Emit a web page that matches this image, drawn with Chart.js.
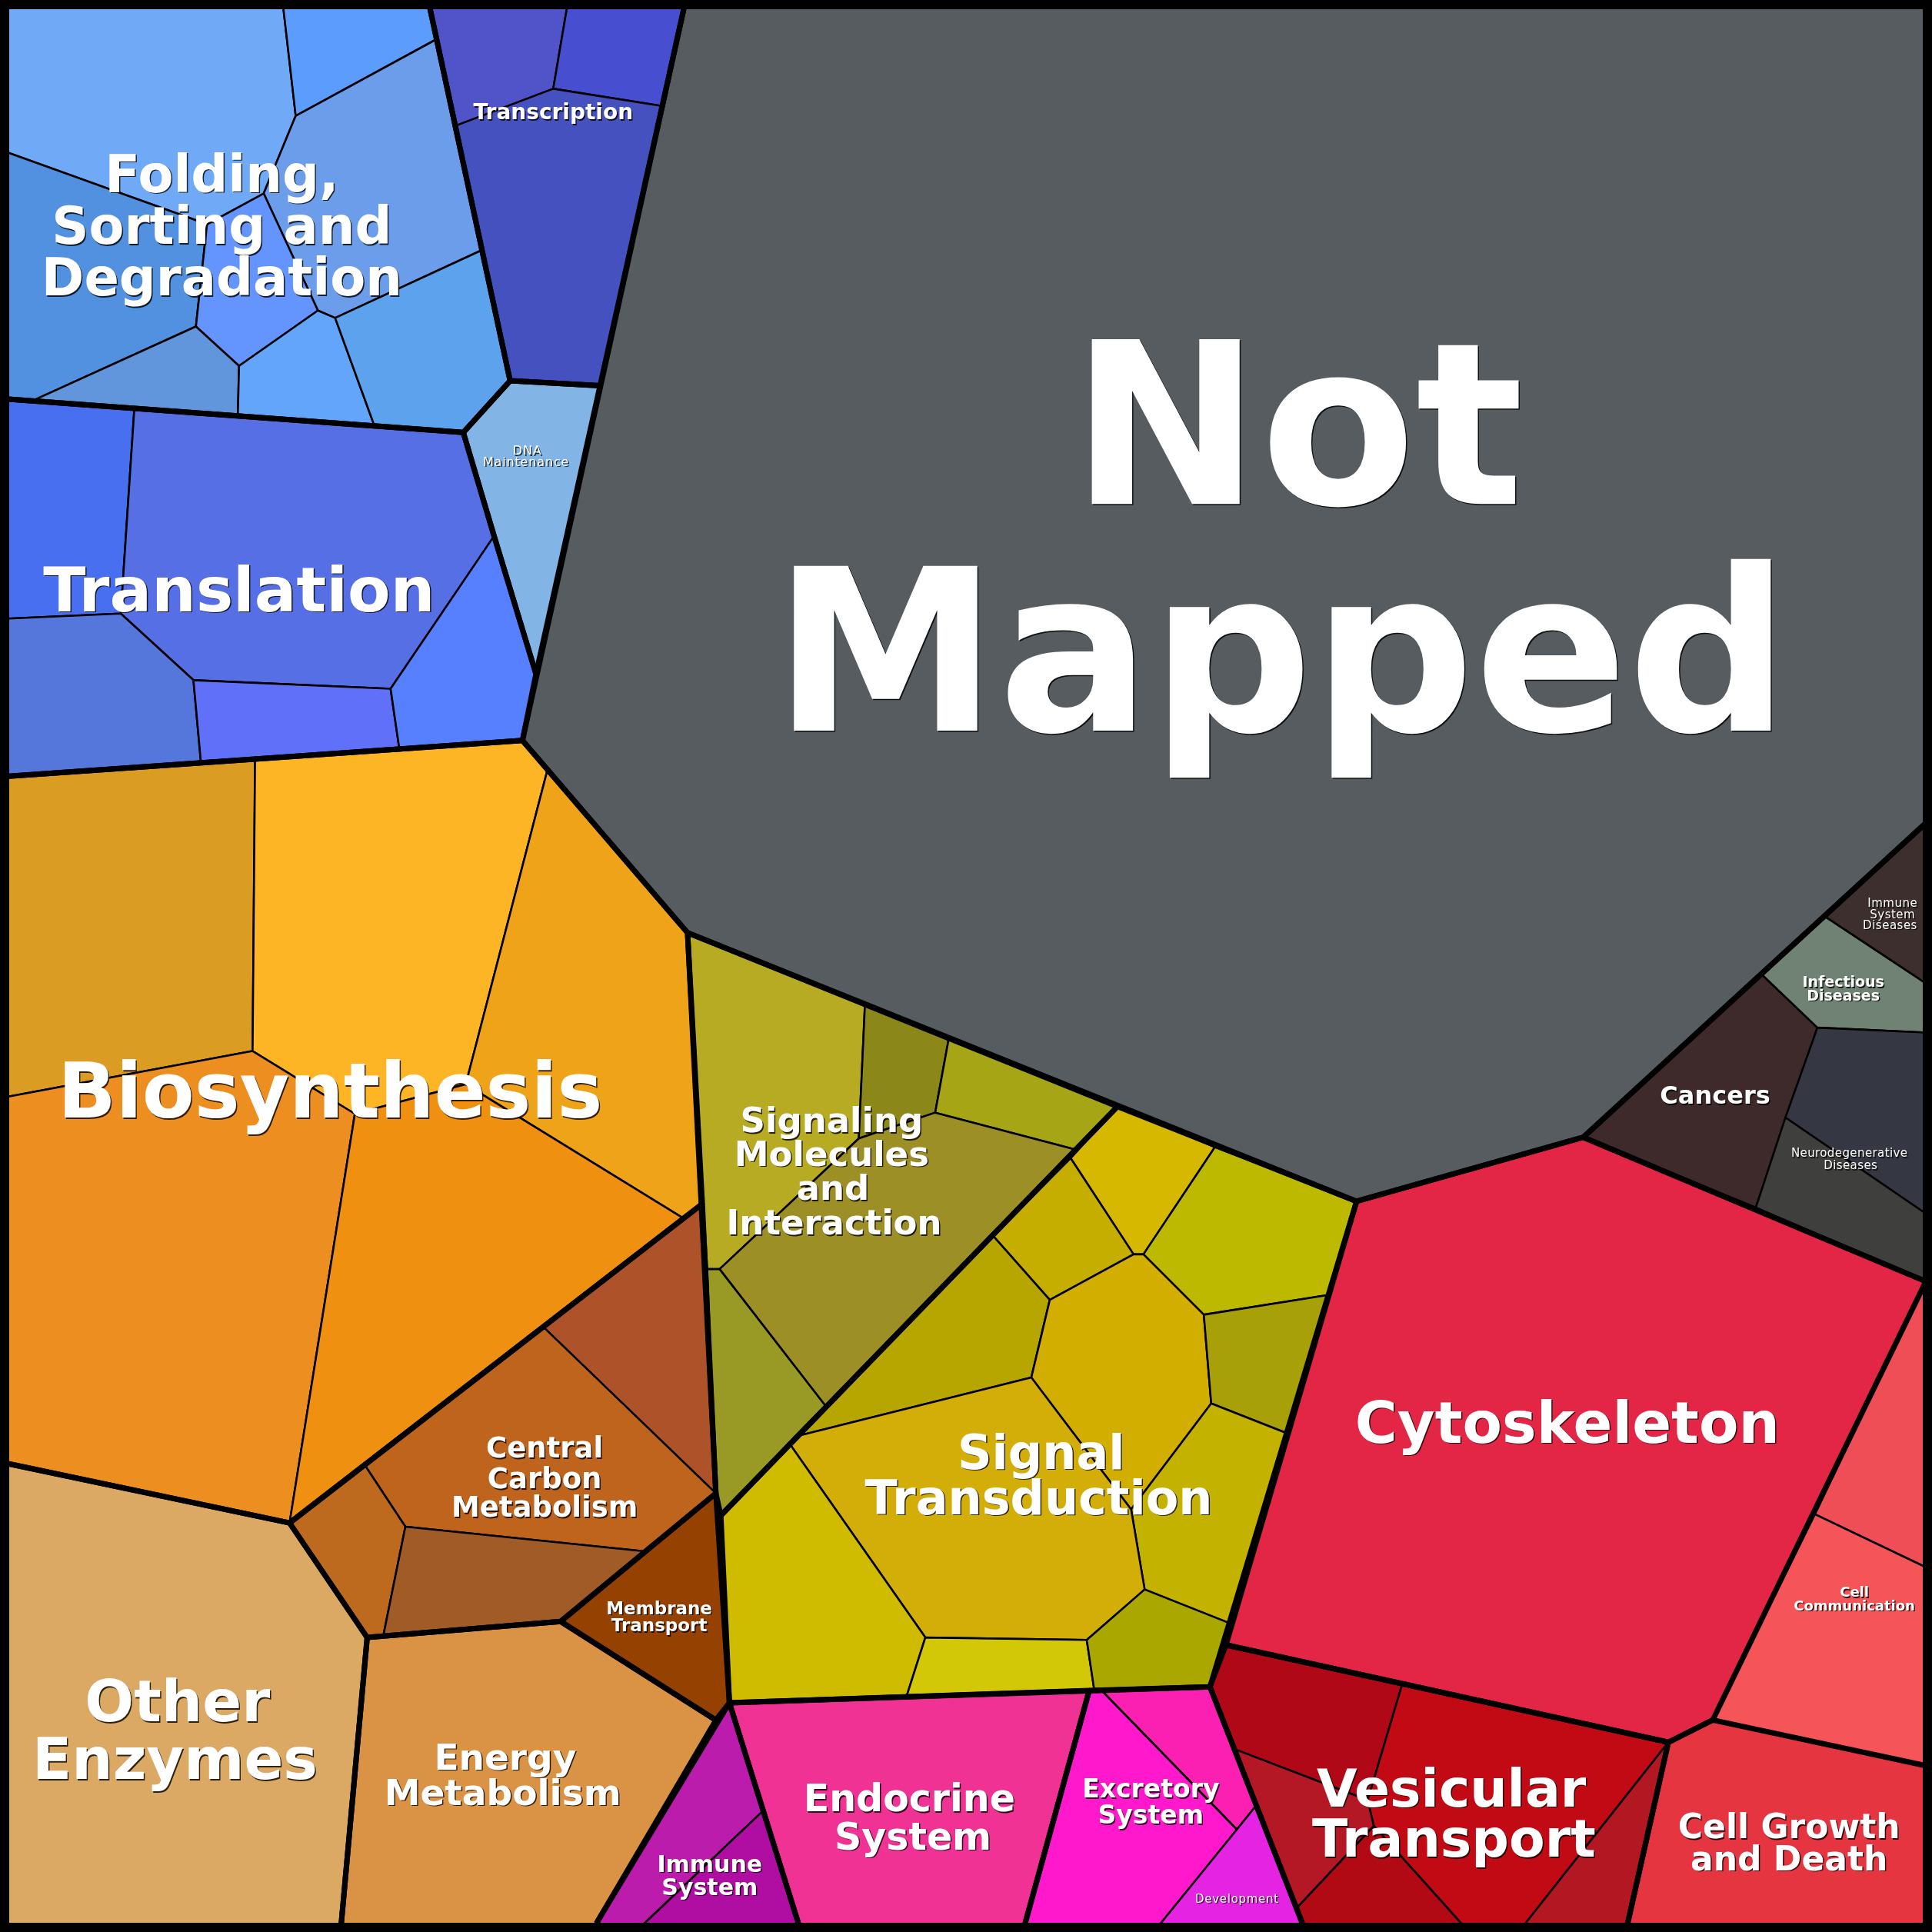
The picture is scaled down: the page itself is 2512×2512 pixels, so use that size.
<!DOCTYPE html>
<html><head><meta charset="utf-8">
<style>html,body{margin:0;padding:0;background:#000}canvas{display:block}</style>
<script src="https://cdn.jsdelivr.net/npm/chart.js@4"></script></head>
<body><canvas id="c" width="2512" height="2512" style="width:2512px;height:2512px"></canvas>
<script>
// Cell outlines, in a 0-1568 plot coordinate system
const notMappedCells=[[[555,7],[1563,7],[1563,668],[1285,923],[1101,975],[558,757],[424,601]]];
const foldingCells=[
[[7,7],[230,7],[240,94],[214,157],[168,182],[7,124]],
[[230,7],[349,7],[354,32],[240,94]],
[[240,94],[354,32],[391,203],[272,258],[258,252],[214,157]],
[[7,124],[168,182],[159,265],[27,325],[7,324]],
[[168,182],[214,157],[258,252],[194,297],[159,265]],
[[27,325],[159,265],[194,297],[193,338]],
[[194,297],[258,252],[272,258],[304,346],[193,338]],
[[272,258],[391,203],[414,309],[376,351],[304,346]]];
const transcriptionCells=[
[[349,7],[460,7],[449,72],[370,102]],
[[460,7],[555,7],[537,86],[449,72]],
[[370,102],[449,72],[537,86],[487,313],[414,309]]];
const dnaCells=[[[414,309],[487,313],[435,547],[401,435],[376,351]]];
const translationCells=[
[[7,324],[109,332],[98,498],[7,502]],
[[109,332],[376,351],[401,435],[317,559],[157,552],[98,498]],
[[7,502],[98,498],[157,552],[163,618],[7,630]],
[[157,552],[317,559],[324,607],[163,618]],
[[401,435],[435,547],[424,601],[324,607],[317,559]]];
const biosynthesisCells=[
[[7,630],[207,617],[205,853],[7,890]],
[[207,617],[424,601],[444,626],[378,880],[288,904],[205,853]],
[[444,626],[558,757],[570,977],[555,989],[378,880]],
[[7,890],[205,853],[288,904],[235,1236],[7,1188]],
[[288,904],[378,880],[555,989],[235,1236]]];
const carbonCells=[
[[555,989],[570,977],[581,1212],[441,1077]],
[[441,1077],[581,1212],[523,1259],[329,1239],[296,1189]],
[[296,1189],[329,1239],[311,1328],[298,1329],[235,1236]],
[[329,1239],[523,1259],[455,1316],[311,1328]]];
const membraneCells=[[[581,1212],[592,1382],[581,1396],[455,1316]]];
const energyCells=[[[298,1329],[455,1316],[581,1396],[484,1561],[277,1561]]];
const otherEnzymeCells=[[[7,1188],[235,1236],[298,1329],[277,1561],[7,1561]]];
const immuneCells=[
[[592,1382],[620,1469],[523,1561],[484,1561]],
[[620,1469],[648,1561],[523,1561]]];
const endocrineCells=[[[592,1382],[884,1372],[832,1561],[648,1561]]];
const excretoryCells=[
[[894,1372],[982,1369],[1019,1466],[1004,1485]],
[[884,1372],[894,1372],[1004,1485],[942,1561],[832,1561]]];
const developmentCells=[[[1019,1466],[1057,1561],[942,1561]]];
const signalingCells=[
[[558,757],[702,815],[697,924],[584,1030],[574,1030]],
[[702,815],[770,843],[759,903],[697,924]],
[[770,843],[907,898],[873,933],[759,903]],
[[584,1030],[697,924],[759,903],[873,933],[670,1141]],
[[574,1030],[584,1030],[670,1141],[585,1230],[581,1212]]];
const transductionCells=[
[[907,898],[986,931],[928,1018],[920,1018],[869,940]],
[[986,931],[1101,975],[1078,1051],[977,1067],[928,1018]],
[[869,940],[920,1018],[852,1055],[806,1003]],
[[806,1003],[852,1055],[837,1118],[645,1166]],
[[852,1055],[920,1018],[928,1018],[977,1067],[983,1139],[918,1225],[837,1118]],
[[977,1067],[1078,1051],[1044,1163],[983,1139]],
[[983,1139],[1044,1163],[997,1317],[929,1290],[918,1225]],
[[645,1166],[837,1118],[918,1225],[929,1290],[882,1331],[751,1329],[641,1172]],
[[585,1230],[645,1166],[641,1172],[751,1329],[736,1376],[592,1382]],
[[751,1329],[882,1331],[888,1371],[736,1376]],
[[882,1331],[929,1290],[997,1317],[982,1369],[888,1371]]];
const cytoskeletonCells=[[[1101,975],[1285,923],[1563,1040],[1473,1229],[1390,1396],[1354,1414],[995,1335]]];
const vesicularCells=[
[[995,1335],[1138,1367],[1110,1461],[1003,1420],[982,1369]],
[[1138,1367],[1354,1414],[1238,1561],[1186,1561],[1115,1482],[1110,1461]],
[[1003,1420],[1110,1461],[1115,1482],[1053,1548]],
[[1053,1548],[1115,1482],[1186,1561],[1057,1561]],
[[1354,1414],[1321,1561],[1238,1561]]];
const growthCells=[[[1354,1414],[1390,1396],[1563,1433],[1563,1561],[1321,1561]]];
const communicationCells=[
[[1563,1040],[1563,1272],[1473,1229]],
[[1473,1229],[1563,1272],[1563,1433],[1390,1396]]];
const cancerCells=[[[1285,923],[1430,791],[1475,834],[1425,980]]];
const infectiousCells=[[[1430,791],[1480,743],[1563,798],[1563,838],[1475,834]]];
const immuneDiseaseCells=[[[1480,743],[1563,668],[1563,798]]];
const neuroCells=[
[[1475,834],[1563,838],[1563,985],[1449,907]],
[[1449,907],[1563,985],[1563,1040],[1425,980]]];

// Outlines of the top-level categories
const categoryOutlines=[
[[555,7],[1563,7],[1563,668],[1285,923],[1101,975],[558,757],[424,601]],
[[7,7],[349,7],[414,309],[376,351],[7,324]],
[[349,7],[555,7],[487,313],[414,309]],
[[414,309],[487,313],[435,547],[401,435],[376,351]],
[[7,324],[376,351],[401,435],[435,547],[424,601],[7,630]],
[[7,630],[424,601],[558,757],[570,977],[235,1236],[7,1188]],
[[570,977],[581,1212],[455,1316],[298,1329],[235,1236]],
[[581,1212],[592,1382],[581,1396],[455,1316]],
[[298,1329],[455,1316],[581,1396],[484,1561],[277,1561]],
[[7,1188],[235,1236],[298,1329],[277,1561],[7,1561]],
[[592,1382],[648,1561],[484,1561]],
[[592,1382],[884,1372],[832,1561],[648,1561]],
[[884,1372],[982,1369],[1057,1561],[832,1561]],
[[558,757],[907,898],[585,1230],[581,1212]],
[[907,898],[1101,975],[982,1369],[592,1382],[585,1230]],
[[1101,975],[1285,923],[1563,1040],[1390,1396],[1354,1414],[995,1335]],
[[995,1335],[1354,1414],[1321,1561],[1057,1561],[982,1369]],
[[1354,1414],[1390,1396],[1563,1433],[1563,1561],[1321,1561]],
[[1285,923],[1563,668],[1563,1040]]];
const frameOutline=[[0,0],[1568,0],[1568,1568],[0,1568]];

const notMappedColors=['#565c60'];
const foldingColors=['#70aaf7','#5b9cfd','#6b9dea','#5290e0','#6495ff','#6296dc','#62a5fb','#5ca2ec'];
const transcriptionColors=['#5154c8','#474fd0','#4551bf'];
const dnaColors=['#82b5e5'];
const translationColors=['#476ff0','#566fe5','#5577dc','#6070f8','#5680ff'];
const biosynthesisColors=['#da9c22','#fdb525','#eea318','#ec8f20','#f09010'];
const carbonColors=['#ae522a','#bf641c','#bd6a1e','#a05b26'];
const membraneColors=['#954102'];
const energyColors=['#da9344'];
const otherEnzymeColors=['#dca964'];
const immuneColors=['#bc1cac','#b00da3'];
const endocrineColors=['#f03294'];
const excretoryColors=['#fb20b2','#ff18cc'];
const developmentColors=['#e524e3'];
const signalingColors=['#b8ab24','#8b8718','#a5a516','#9c8f26','#999926'];
const transductionColors=['#d6b800','#bdb900','#c6ae00','#b8a600','#d2ae00','#a8a008','#c4b200','#d4ae08','#cfbc00','#d3c808','#a9a700'];
const cytoskeletonColors=['#e42646'];
const vesicularColors=['#b00816','#c10a14','#b41824','#b20a14','#b31822'];
const growthColors=['#e53540'];
const communicationColors=['#f04e56','#f55558'];
const cancerColors=['#3e2a2a'];
const infectiousColors=['#6f8274'];
const immuneDiseaseColors=['#3e2f2f'];
const neuroColors=['#353842','#3f403e'];

// Text lines
const labelTexts=['Not','Mapped','Folding,','Sorting and','Degradation','Transcription','DNA','Maintenance','Translation','Biosynthesis','Signaling','Molecules','and','Interaction','Central','Carbon','Metabolism','Membrane','Transport','Signal','Transduction','Cytoskeleton','Vesicular','Transport','Cell Growth','and Death','Cell','Communication','Other','Enzymes','Energy','Metabolism','Immune','System','Endocrine','System','Excretory','System','Development','Cancers','Infectious','Diseases','Immune','System','Diseases','Neurodegenerative','Diseases'];
const labelX=[1053,1040,180,180,180,449,428,427,194,268,675,675,676,677,442,442,442,535,535,845,843,1272,1178,1180,1452,1452,1505,1505,144,142,410,408,576,576,738,741,934,934,1004,1392,1496,1496,1536,1536,1534,1501,1502];
const labelY=[409,593,156,198,240,97,369,378,496,907,919,946,974,1002,1183,1208,1231,1310,1324,1192,1229,1171,1466,1507,1492,1518,1296,1307,1397,1444,1436,1465,1519,1538,1470,1501,1459,1480,1544,896,801,812,736,745,754,939,949];
const labelSize=[294,294,67,67,67,28,16,16,81,99,45,45,45,45,37,37,37,23,23,62,62,75,68,68,44,44,18,18,75,75,47,47,30,30,49,49,33,33,15,32,19,19,15,15,15,15,15];
const labelRegular=[6,7,38,42,43,44,45,46];
const labelTracking=[0,0,0,0,0,0,0.85,0.85,0,0,0,0,0,0,0,0,0,0,0,0,0,0,0,0,0,0,0,0,0,0,0,0,0,0,0,0,0,0,0.7,0,0,0,0.5,0.5,0.5,0.4,0.4];
const frameEdgeX=7, frameEdgeTop=7, frameEdgeBottom=1561;

const cellGroups=[[notMappedCells,notMappedColors],[foldingCells,foldingColors],[transcriptionCells,transcriptionColors],[dnaCells,dnaColors],[translationCells,translationColors],[biosynthesisCells,biosynthesisColors],[carbonCells,carbonColors],[membraneCells,membraneColors],[energyCells,energyColors],[otherEnzymeCells,otherEnzymeColors],[immuneCells,immuneColors],[endocrineCells,endocrineColors],[excretoryCells,excretoryColors],[developmentCells,developmentColors],[signalingCells,signalingColors],[transductionCells,transductionColors],[cytoskeletonCells,cytoskeletonColors],[vesicularCells,vesicularColors],[growthCells,growthColors],[communicationCells,communicationColors],[cancerCells,cancerColors],[infectiousCells,infectiousColors],[immuneDiseaseCells,immuneDiseaseColors],[neuroCells,neuroColors]];

const toPts=p=>p.concat([p[0]]).map(v=>({x:v[0],y:v[1]}));
// Segments that run along the frame are hidden so they do not fatten it
const hideOnFrame=c=>{const a=c.p0.parsed,b=c.p1.parsed;
  return (a.x===frameEdgeX&&b.x===frameEdgeX)||(a.y===frameEdgeTop&&b.y===frameEdgeTop)||(a.y===frameEdgeBottom&&b.y===frameEdgeBottom)?'rgba(0,0,0,0)':undefined;};
const datasets=[];
cellGroups.forEach(([cells,colors])=>cells.forEach((c,i)=>datasets.push({data:toPts(c),polyFill:colors[i],borderColor:'#000',borderWidth:2.6,segment:{borderColor:hideOnFrame}})));
categoryOutlines.forEach(c=>datasets.push({data:toPts(c),borderColor:'#000',borderWidth:7,segment:{borderColor:hideOnFrame}}));
datasets.push({data:toPts(frameOutline),borderColor:'#000',borderWidth:24});
datasets.forEach(d=>Object.assign(d,{showLine:true,tension:0,pointRadius:0,clip:false,fill:false,borderJoinStyle:'round',borderCapStyle:'butt'}));
datasets.reverse(); // Chart.js paints the last dataset first

const polygonFill={id:'polygonFill',beforeDatasetDraw(chart,args){
  const ds=chart.data.datasets[args.index]; if(!ds.polyFill)return;
  const pts=args.meta.data, ctx=chart.ctx;
  ctx.save();ctx.beginPath();
  pts.forEach((p,i)=>i?ctx.lineTo(p.x,p.y):ctx.moveTo(p.x,p.y));
  ctx.closePath();ctx.fillStyle=ds.polyFill;ctx.fill();ctx.restore();
}};
const textLabels={id:'textLabels',afterDatasetsDraw(chart){
  const ctx=chart.ctx,sx=chart.scales.x,sy=chart.scales.y;
  ctx.save();ctx.textAlign='center';ctx.textBaseline='alphabetic';
  labelTexts.forEach((t,i)=>{
    const x=sx.getPixelForValue(labelX[i]),y=sy.getPixelForValue(labelY[i]),s=labelSize[i];
    const w=labelRegular.includes(i)?'normal':'bold';
    ctx.font=w+' '+s+'px "DejaVu Sans"';
    ctx.letterSpacing=labelTracking[i]+'px';
    const o=1.5;
    ctx.fillStyle='rgba(0,0,0,0.8)';ctx.fillText(t,x+o,y+o);
    ctx.fillStyle='#fff';ctx.fillText(t,x,y);
  });
  ctx.restore();
}};
new Chart(document.getElementById('c'),{type:'scatter',data:{datasets},plugins:[polygonFill,textLabels],options:{
  responsive:false,devicePixelRatio:1,animation:false,layout:{padding:0},
  plugins:{legend:{display:false},tooltip:{enabled:false}},
  scales:{x:{type:'linear',min:0,max:1568,display:false},y:{type:'linear',min:0,max:1568,reverse:true,display:false}}
}});
</script></body></html>
